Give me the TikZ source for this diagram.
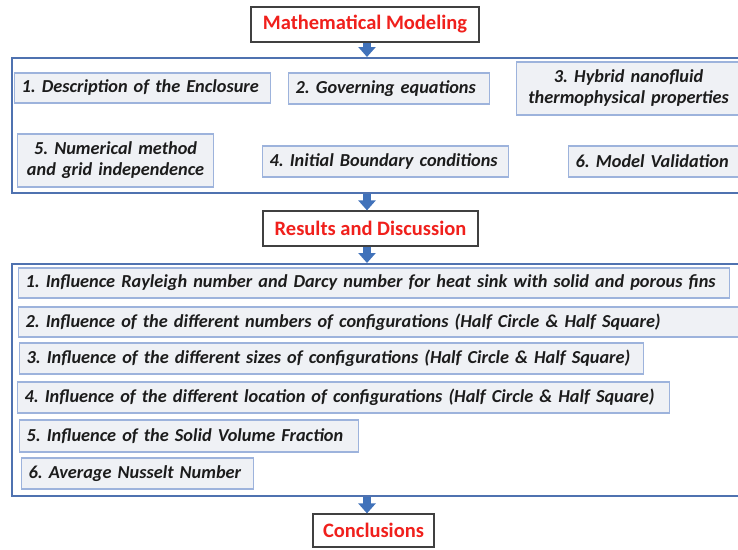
\documentclass[tikz,border=0pt]{standalone}
\usepackage{fontspec}
\setmainfont{Carlito}
\frenchspacing
\usetikzlibrary{arrows.meta}
\definecolor{itemblue}{HTML}{9DB3DC}
\definecolor{itemgray}{HTML}{EFF1F5}
\definecolor{bigblue}{HTML}{4F72B0}
\definecolor{arrowblue}{HTML}{4172BA}
\definecolor{headred}{HTML}{F0201C}
\definecolor{headgray}{HTML}{404040}
\definecolor{txt}{HTML}{1C1C1C}
\tikzset{
  item/.style={draw=itemblue, fill=itemgray, line width=1.2pt, inner xsep=7pt, inner ysep=0pt,
    text=txt, font=\bfseries\itshape\fontsize{18.3}{21}\selectfont, align=left},
  itemc/.style={item, align=center},
  bigbox/.style={draw=bigblue, line width=2pt, fill=white, inner sep=0pt},
  head/.style={draw=headgray, line width=1.2pt, fill=white, inner sep=0pt, text=headred,
    font=\bfseries\fontsize{20.5}{24}\selectfont},
  barrow/.style={draw=arrowblue, line width=8pt, -{Triangle[width=17pt,length=10pt]}}
}
\begin{document}
\begin{tikzpicture}[x=1pt,y=-1pt]
\useasboundingbox (0,0) rectangle (738,549);
\coordinate (ax) at (367,0);
% headings
\node[head, minimum width=228pt, minimum height=35pt] (mm) at (365,24.5) {Mathematical Modeling};
\node[head, minimum width=215pt, minimum height=35pt] (rd) at (370.5,228.5) {Results and Discussion};
\node[head, minimum width=121pt, minimum height=33pt] (cc) at (373.5,530.5) {Conclusions};
% big boxes
\node[bigbox, anchor=north west, minimum width=734pt, minimum height=135pt] (b1) at (11,57) {};
\node[bigbox, anchor=north west, minimum width=734pt, minimum height=232pt] (b2) at (11,263) {};
% modeling items
\node[item, anchor=west, text width=242pt, minimum height=30pt] (m1) at (14,88) {1. Description of the Enclosure};
\node[item, anchor=west, text width=187pt, minimum height=31pt] (m2) at (288,88.5) {2. Governing equations};
\node[itemc, anchor=west, text width=210pt, minimum height=53pt] (m3) at (516,88.5) {3. Hybrid nanofluid\\thermophysical properties};
\node[itemc, anchor=west, text width=182pt, minimum height=53pt] (m5) at (17,160.5) {5. Numerical method\\and grid independence};
\node[item, anchor=west, text width=232pt, minimum height=31pt] (m4) at (262,161.5) {4. Initial Boundary conditions};
\node[item, anchor=west, text width=163pt, minimum height=31pt] (m6) at (568,161.5) {6. Model Validation};
% results items
\node[item, anchor=west, text width=697pt, minimum height=30pt] (r1) at (18,283) {1. Influence Rayleigh number and Darcy number for heat sink with solid and porous fins};
\node[item, anchor=west, text width=713pt, minimum height=30pt] (r2) at (18,322) {2. Influence of the different numbers of configurations (Half Circle \& Half Square)};
\node[item, anchor=west, text width=610pt, minimum height=31pt] (r3) at (19,358.5) {3. Influence of the different sizes of configurations (Half Circle \& Half Square)};
\node[item, anchor=west, text width=638pt, minimum height=31pt] (r4) at (17,397.5) {4. Influence of the different location of configurations (Half Circle \& Half Square)};
\node[item, anchor=west, text width=325pt, minimum height=32pt] (r5) at (19,436) {5. Influence of the Solid Volume Fraction};
\node[item, anchor=west, text width=218pt, minimum height=31pt] (r6) at (21,473.5) {6. Average Nusselt Number};
% arrows
\draw[barrow] (ax |- mm.south) -- (ax |- b1.north);
\draw[barrow] (ax |- b1.south) -- (ax |- rd.north);
\draw[barrow] (ax |- rd.south) -- (ax |- b2.north);
\draw[barrow] (ax |- b2.south) -- (ax |- cc.north);
\end{tikzpicture}
\end{document}
